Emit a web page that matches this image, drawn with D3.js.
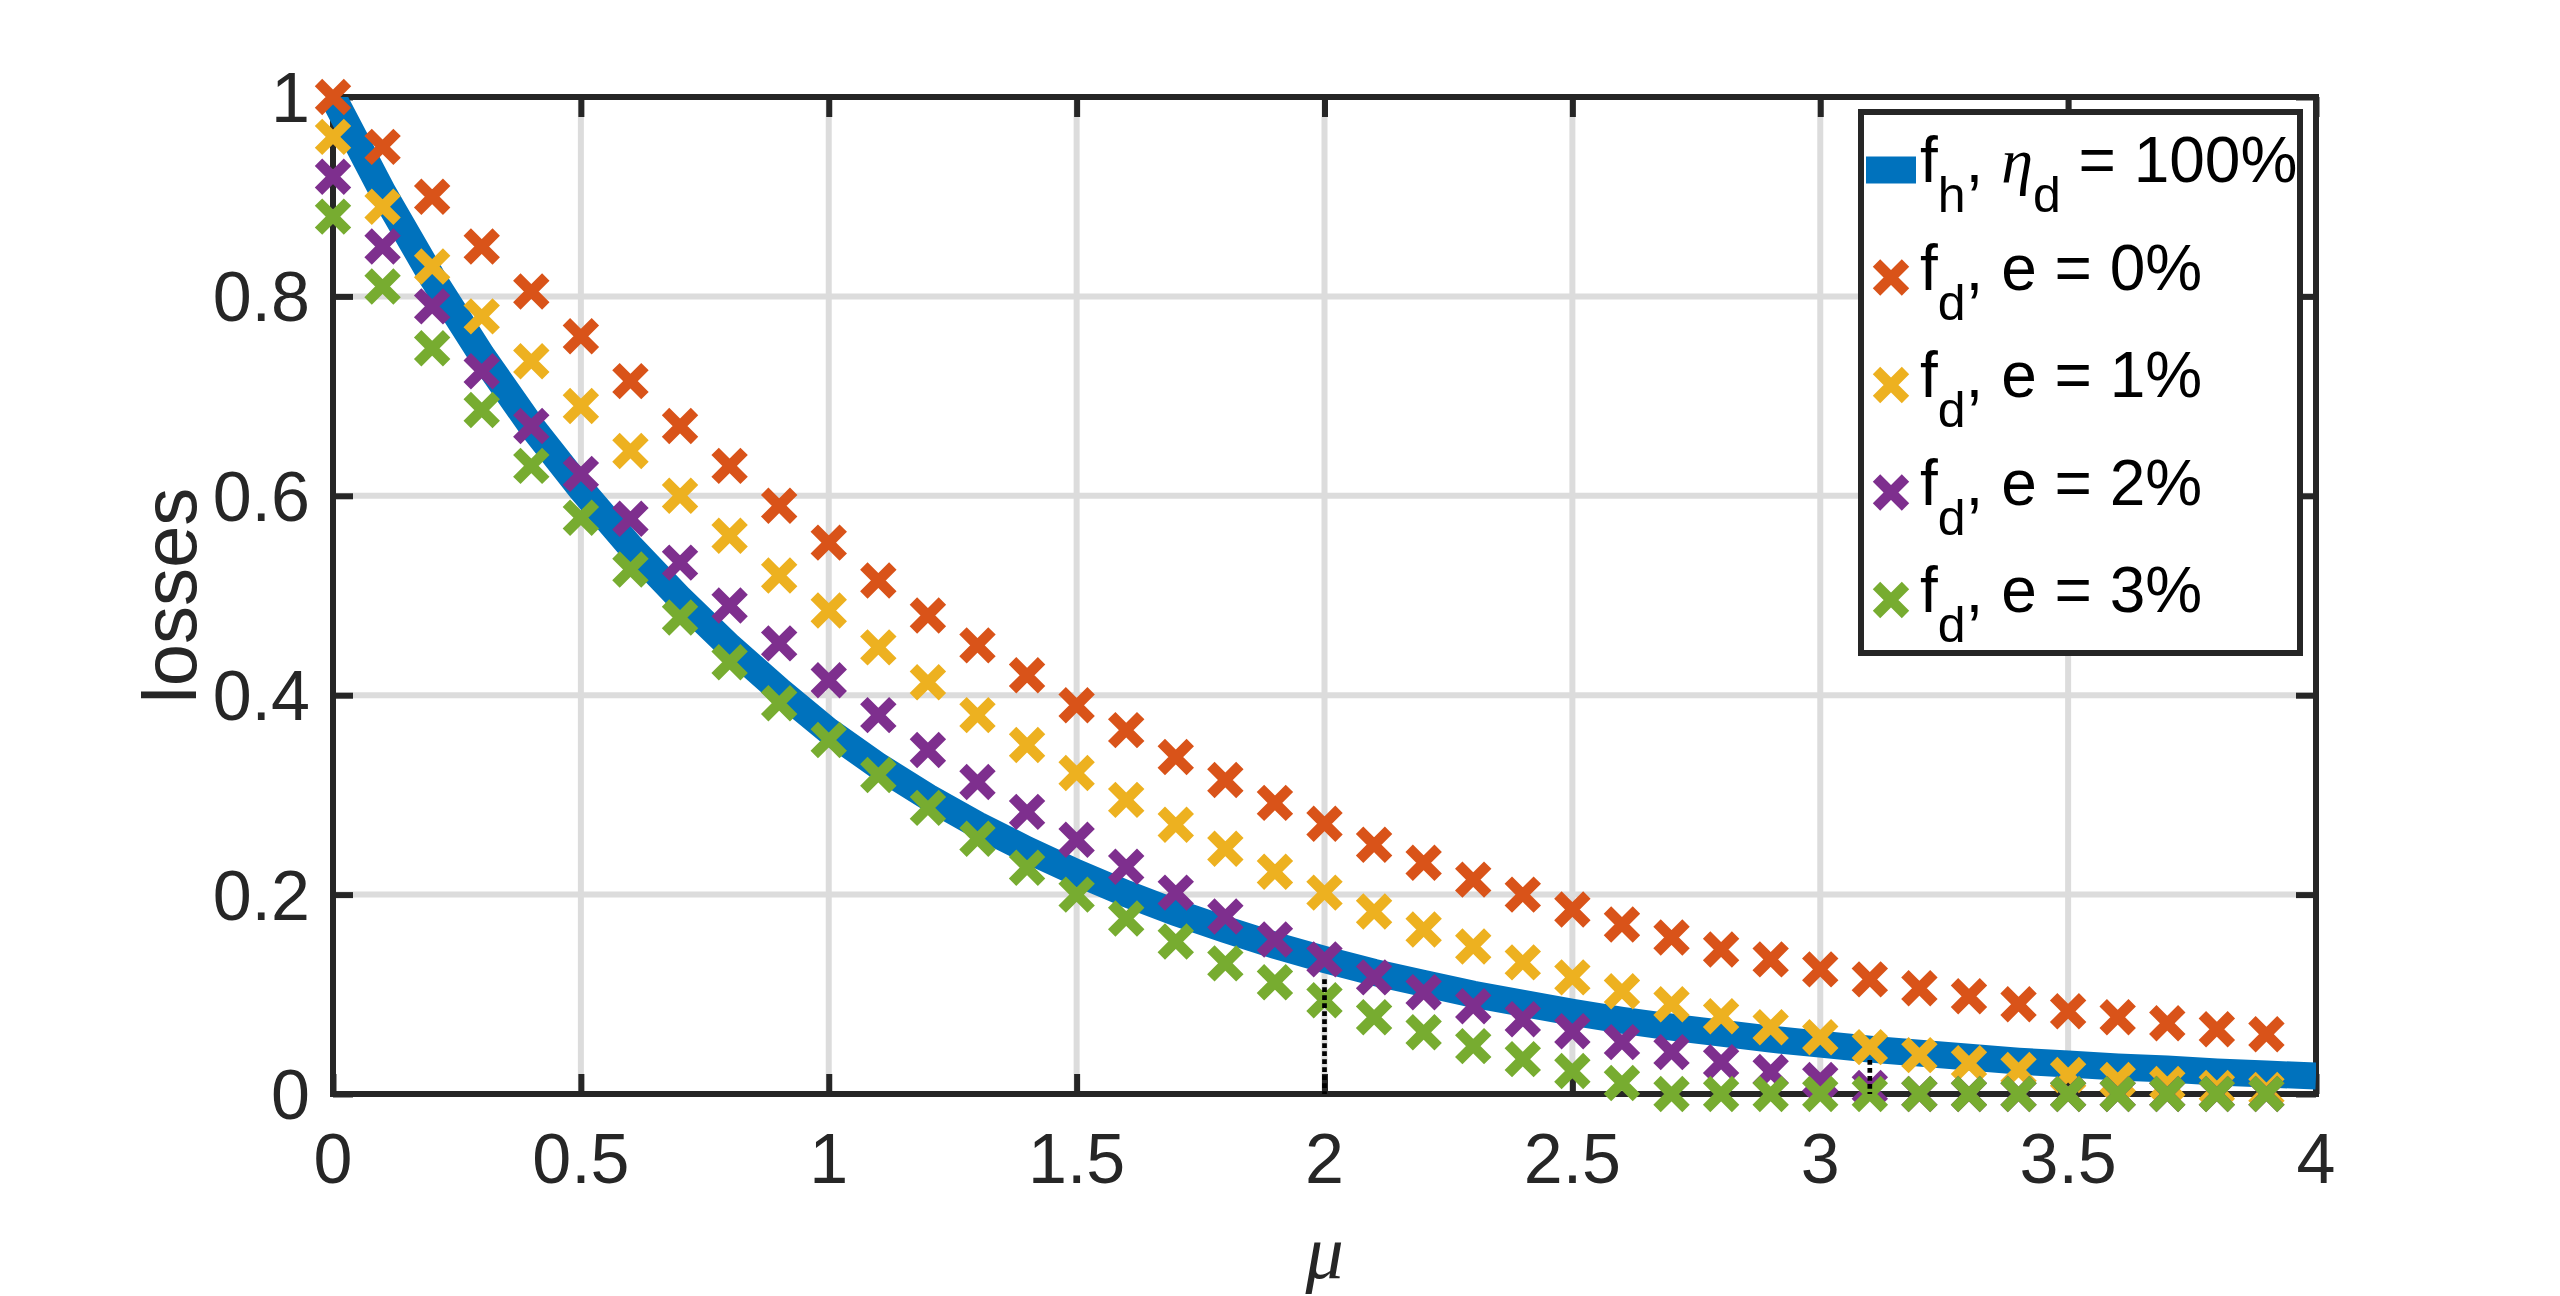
<!DOCTYPE html>
<html>
<head>
<meta charset="utf-8">
<script src="https://d3js.org/d3.v7.min.js"></script>
<style>
  body { margin: 0; background: #fff; }
  svg text { font-family: "Liberation Sans", Arial, sans-serif; }
</style>
</head>
<body>
<div id="chart"></div>
<script>
// values
var mu = [0, 0.1, 0.2, 0.3, 0.4, 0.5, 0.6, 0.7, 0.8, 0.9,
  1.0, 1.1, 1.2, 1.3, 1.4, 1.5, 1.6, 1.7, 1.8, 1.9,
  2.0, 2.1, 2.2, 2.3, 2.4, 2.5, 2.6, 2.7, 2.8, 2.9,
  3.0, 3.1, 3.2, 3.3, 3.4, 3.5, 3.6, 3.7, 3.8, 3.9];

var lossE0 = [1.0, 0.95, 0.90, 0.85, 0.805, 0.76, 0.715, 0.67, 0.63, 0.59,
  0.553, 0.515, 0.48, 0.45, 0.42, 0.39, 0.365, 0.338, 0.315, 0.292,
  0.271, 0.25, 0.232, 0.215, 0.2, 0.185, 0.17, 0.157, 0.145, 0.135,
  0.125, 0.115, 0.106, 0.098, 0.09, 0.083, 0.077, 0.071, 0.065, 0.06];

var lossE1 = [0.96, 0.89, 0.83, 0.78, 0.735, 0.69, 0.645, 0.60, 0.56, 0.52,
  0.485, 0.448, 0.413, 0.38, 0.35, 0.322, 0.295, 0.27, 0.246, 0.223,
  0.202, 0.183, 0.165, 0.148, 0.132, 0.117, 0.103, 0.09, 0.078, 0.067,
  0.057, 0.047, 0.039, 0.031, 0.024, 0.019, 0.014, 0.01, 0.006, 0.004];

var lossE2 = [0.92, 0.85, 0.79, 0.725, 0.67, 0.622, 0.577, 0.533, 0.49, 0.452,
  0.415, 0.38, 0.345, 0.313, 0.283, 0.255, 0.228, 0.202, 0.178, 0.155,
  0.135, 0.117, 0.102, 0.088, 0.075, 0.063, 0.052, 0.042, 0.032, 0.022,
  0.014, 0.006, 0, 0, 0, 0, 0, 0, 0, 0];

var lossE3 = [0.88, 0.81, 0.748, 0.686, 0.63, 0.578, 0.526, 0.478, 0.433, 0.392,
  0.355, 0.32, 0.287, 0.256, 0.227, 0.2, 0.176, 0.153, 0.131, 0.112,
  0.094, 0.077, 0.062, 0.048, 0.035, 0.023, 0.011, 0, 0, 0,
  0, 0, 0, 0, 0, 0, 0, 0, 0, 0];

var curveMu = [0, 0.1, 0.2, 0.3, 0.4, 0.5, 0.6, 0.7, 0.8, 0.9,
  1.0, 1.1, 1.2, 1.3, 1.4, 1.5, 1.6, 1.7, 1.8, 1.9,
  2.0, 2.1, 2.2, 2.3, 2.4, 2.5, 2.6, 2.7, 2.8, 2.9,
  3.0, 3.1, 3.2, 3.3, 3.4, 3.5, 3.6, 3.7, 3.8, 3.9, 4.0];

var curveLoss = [1.0, 0.905, 0.819, 0.741, 0.67, 0.607, 0.549, 0.497, 0.449, 0.405,
  0.364, 0.329, 0.298, 0.27, 0.245, 0.222, 0.201, 0.182, 0.165, 0.149,
  0.135, 0.122, 0.111, 0.1, 0.091, 0.082, 0.074, 0.067, 0.061, 0.055,
  0.05, 0.045, 0.041, 0.037, 0.033, 0.03, 0.027, 0.025, 0.022, 0.02, 0.018];

var dropMu = [2.0, 3.1];
var dropTop = [0.115, 0.034];

var xTicks = [0, 0.5, 1, 1.5, 2, 2.5, 3, 3.5, 4];
var yTicks = [0, 0.2, 0.4, 0.6, 0.8, 1];
var yTickLabels = ["0", "0.2", "0.4", "0.6", "0.8", "1"];

var seriesLabels = ["e = 0%", "e = 1%", "e = 2%", "e = 3%"];
var seriesColors = ["#D95319", "#EDB120", "#7E2F8E", "#77AC30"];
var curveColor = "#0072BD";

var width = 2560, height = 1296,
  plot = {left: 333, right: 2316, top: 97, bottom: 1094},
  axisColor = "#262626", gridColor = "#dcdcdc";

var svg = d3.select("#chart")
  .append("svg")
    .attr("width", width)
    .attr("height", height)

svg.append("rect")
  .attr("width", width)
  .attr("height", height)
  .attr("fill", "#fff")

var xScale = d3.scaleLinear()
  .domain([0, 4])
  .range([plot.left, plot.right])

var yScale = d3.scaleLinear()
  .domain([0, 1])
  .range([plot.bottom, plot.top])

// grid
svg.append("g")
  .selectAll("line")
  .data(xTicks.slice(1, -1))
  .enter()
  .append("line")
    .attr("x1", d => xScale(d))
    .attr("x2", d => xScale(d))
    .attr("y1", plot.top)
    .attr("y2", plot.bottom)
    .attr("stroke", gridColor)
    .attr("stroke-width", 6)

svg.append("g")
  .selectAll("line")
  .data(yTicks.slice(1, -1))
  .enter()
  .append("line")
    .attr("x1", plot.left)
    .attr("x2", plot.right)
    .attr("y1", d => yScale(d))
    .attr("y2", d => yScale(d))
    .attr("stroke", gridColor)
    .attr("stroke-width", 6)

// axes box, inward ticks on all four sides
var tickLen = 20;

svg.append("g")
  .attr("transform", "translate(0," + plot.bottom + ")")
  .call(d3.axisBottom(xScale).tickValues(xTicks).tickSize(-tickLen).tickFormat(""))
svg.append("g")
  .attr("transform", "translate(0," + plot.top + ")")
  .call(d3.axisTop(xScale).tickValues(xTicks).tickSize(-tickLen).tickFormat(""))
svg.append("g")
  .attr("transform", "translate(" + plot.left + ",0)")
  .call(d3.axisLeft(yScale).tickValues(yTicks).tickSize(-tickLen).tickFormat(""))
svg.append("g")
  .attr("transform", "translate(" + plot.right + ",0)")
  .call(d3.axisRight(yScale).tickValues(yTicks).tickSize(-tickLen).tickFormat(""))

svg.selectAll(".domain").remove()
svg.selectAll(".tick line")
  .attr("stroke", axisColor)
  .attr("stroke-width", 6)

svg.append("rect")
  .attr("x", plot.left)
  .attr("y", plot.top)
  .attr("width", plot.right - plot.left)
  .attr("height", plot.bottom - plot.top)
  .attr("fill", "none")
  .attr("stroke", axisColor)
  .attr("stroke-width", 6)

// tick labels
svg.append("g")
  .selectAll("text")
  .data(xTicks)
  .enter()
  .append("text")
    .attr("x", d => xScale(d))
    .attr("y", plot.bottom + 89)
    .attr("text-anchor", "middle")
    .attr("font-size", 70)
    .attr("fill", axisColor)
    .text(d => d)

svg.append("g")
  .selectAll("text")
  .data(yTicks)
  .enter()
  .append("text")
    .attr("x", plot.left - 23)
    .attr("y", d => yScale(d) + 25)
    .attr("text-anchor", "end")
    .attr("font-size", 70)
    .attr("fill", axisColor)
    .text((d, i) => yTickLabels[i])

// axis titles
svg.append("text")
  .attr("transform", "translate(196," + (plot.top + plot.bottom) / 2 + ") rotate(-90)")
  .attr("text-anchor", "middle")
  .attr("font-size", 76)
  .attr("fill", axisColor)
  .text("losses")

svg.append("text")
  .attr("x", (plot.left + plot.right) / 2)
  .attr("y", 1278)
  .attr("text-anchor", "middle")
  .attr("font-size", 76)
  .attr("font-style", "italic")
  .style("font-family", "'Liberation Serif', 'DejaVu Serif', serif")
  .attr("fill", axisColor)
  .text("μ")

// f_h curve
svg.append("clipPath")
  .attr("id", "plotClip")
  .append("rect")
    .attr("x", plot.left - 20)
    .attr("y", plot.top)
    .attr("width", plot.right - plot.left + 20)
    .attr("height", plot.bottom - plot.top)

var line = d3.line()
  .x((d, i) => xScale(curveMu[i]))
  .y(d => yScale(d))

svg.append("path")
  .attr("clip-path", "url(#plotClip)")
  .attr("d", line(curveLoss))
  .attr("fill", "none")
  .attr("stroke", curveColor)
  .attr("stroke-width", 27)

// x markers
var arm = 14.5;
var crossPath = "M" + (-arm) + "," + (-arm) + "L" + arm + "," + arm +
  "M" + (-arm) + "," + arm + "L" + arm + "," + (-arm);

var series = [lossE0, lossE1, lossE2, lossE3];

series.forEach(function(values, s) {
  svg.append("g")
    .selectAll("path")
    .data(values)
    .enter()
    .append("path")
      .attr("transform", (d, i) => "translate(" + xScale(mu[i]) + "," + yScale(d) + ")")
      .attr("d", crossPath)
      .attr("fill", "none")
      .attr("stroke", seriesColors[s])
      .attr("stroke-width", 10.5)
})

// dotted drop lines
svg.append("g")
  .selectAll("line")
  .data(dropMu)
  .enter()
  .append("line")
    .attr("x1", d => xScale(d))
    .attr("x2", d => xScale(d))
    .attr("y1", (d, i) => yScale(dropTop[i]))
    .attr("y2", yScale(0))
    .attr("stroke", "#000")
    .attr("stroke-width", 4.7)
    .attr("stroke-dasharray", "4.7,3.3")

// legend
var legend = svg.append("g")

legend.append("rect")
  .attr("x", 1861)
  .attr("y", 112)
  .attr("width", 2300 - 1861)
  .attr("height", 653 - 112)
  .attr("fill", "#fff")
  .attr("stroke", axisColor)
  .attr("stroke-width", 6)

var rowY = [170, 277.5, 385, 492.5, 600],
  symX = 1891, textX = 1920, fs = 64, subFs = 50, subDy = 30;

legend.append("line")
  .attr("x1", symX - 25)
  .attr("x2", symX + 25)
  .attr("y1", rowY[0])
  .attr("y2", rowY[0])
  .attr("stroke", curveColor)
  .attr("stroke-width", 27)

function addLabel(y, sub, mid, rest) {
  var t = legend.append("text")
    .attr("x", textX)
    .attr("y", y + 12)
    .attr("font-size", fs)
    .attr("fill", "#000")
    .style("white-space", "pre")
  t.append("tspan").text("f")
  t.append("tspan").attr("font-size", subFs).attr("dy", subDy).text(sub)
  t.append("tspan").attr("dy", -subDy).text(", ")
  if (mid) {
    t.append("tspan")
      .style("font-family", "'Liberation Serif', 'DejaVu Serif', serif")
      .attr("font-style", "italic")
      .text(mid)
    t.append("tspan").attr("font-size", subFs).attr("dy", subDy).text("d")
    t.append("tspan").attr("dy", -subDy).text(rest)
  } else {
    t.append("tspan").text(rest)
  }
}

addLabel(rowY[0], "h", "η", " = 100%")

seriesLabels.forEach(function(label, s) {
  legend.append("path")
    .attr("transform", "translate(" + symX + "," + rowY[s + 1] + ")")
    .attr("d", crossPath)
    .attr("fill", "none")
    .attr("stroke", seriesColors[s])
    .attr("stroke-width", 10.5)
  addLabel(rowY[s + 1], "d", null, label)
})
</script>
</body>
</html>
